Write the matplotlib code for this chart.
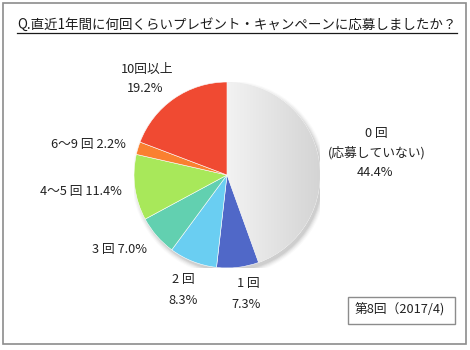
import numpy as np
import matplotlib.pyplot as plt
from matplotlib.patches import Rectangle, Circle
from matplotlib.lines import Line2D
from matplotlib.colors import LinearSegmentedColormap

plt.rcParams['font.family'] = ['Noto Sans CJK JP', 'DejaVu Sans']

# data
categories = ['0 回', '1 回', '2 回', '3 回', '4～5 回', '6～9 回', '10回以上']
values = [44.4, 7.3, 8.3, 7.0, 11.4, 2.2, 19.2]
colors = ['#e4e4e4', '#5068c8', '#6acef2', '#62d0b0', '#a8e85a', '#fa8030', '#f04a32']
title = 'Q.直近1年間に何回くらいプレゼント・キャンペーンに応募しましたか？'
note = '第8回（2017/4)'

W, H = 470, 350
fig = plt.figure(figsize=(W / 100, H / 100), dpi=100)

def fx(x):
    return x / W

def fy(y):
    return 1 - y / H

# outer frame
fig.add_artist(Rectangle((fx(3), fy(344)), fx(463), 341 / H, fill=False,
                         edgecolor='#8c8c8c', lw=1.2, transform=fig.transFigure))

# title with underline
t = fig.text(fx(237), fy(25), title, ha='center', va='center', fontsize=9.7, color='#1a1a1a')
fig.canvas.draw()
bb = t.get_window_extent()
fig.add_artist(Line2D([bb.x0 / W, bb.x1 / W], [fy(33), fy(33)], color='#1a1a1a', lw=0.9,
                      transform=fig.transFigure))

# pie
cx, cy, r = 227, 175, 93
ax = fig.add_axes([fx(cx - r), fy(cy + r), 2 * r / W, 2 * r / H])
ax.axis('off')

# soft shadow
for i, a in enumerate(np.linspace(0.06, 0.02, 5)):
    ax.add_patch(Circle((0.025, -0.035), 1.0 + 0.012 * i, color='black', alpha=a, lw=0, zorder=0))

wedges, _ = ax.pie(values, colors=colors, startangle=90, counterclock=False,
                   radius=1, wedgeprops=dict(lw=0.4, edgecolor='white'))
for w in wedges:
    w.set_zorder(2)

# gradient on the big gray slice
grad = np.linspace(0, 1, 256).reshape(1, -1)
cmap = LinearSegmentedColormap.from_list('g', ['#f4f4f4', '#d4d4d4'])
im = ax.imshow(grad, extent=[-0.05, 1.0, -1.0, 1.0], cmap=cmap, aspect='auto', zorder=3)
im.set_clip_path(wedges[0])
ax.set_xlim(-1, 1)
ax.set_ylim(-1, 1)
ax.set_aspect('equal')

# labels (pixel positions)
kw = dict(ha='center', va='center', fontsize=9.2, color='#222222')
fig.text(fx(376), fy(133), categories[0], **kw)
fig.text(fx(377), fy(153), '(応募していない)', **kw)
fig.text(fx(375), fy(173), f'{values[0]}%', **kw)
fig.text(fx(248), fy(283), categories[1], **kw)
fig.text(fx(246), fy(304), f'{values[1]}%', **kw)
fig.text(fx(183), fy(280), categories[2], **kw)
fig.text(fx(183), fy(300), f'{values[2]}%', **kw)
fig.text(fx(120), fy(249), f'{categories[3]} {values[3]}%', **kw)
fig.text(fx(81), fy(191), f'{categories[4]} {values[4]}%', **kw)
fig.text(fx(88), fy(144), f'{categories[5]} {values[5]}%', **kw)
fig.text(fx(147), fy(69), categories[6], **kw)
fig.text(fx(145), fy(89), f'{values[6]}%', **kw)

# note box
fig.add_artist(Rectangle((fx(348), fy(324)), fx(107), 27 / H, fill=False,
                         edgecolor='#8c8c8c', lw=1.0, transform=fig.transFigure))
fig.text(fx(400), fy(310), note, **kw)

fig.savefig('out.png', dpi=100)
